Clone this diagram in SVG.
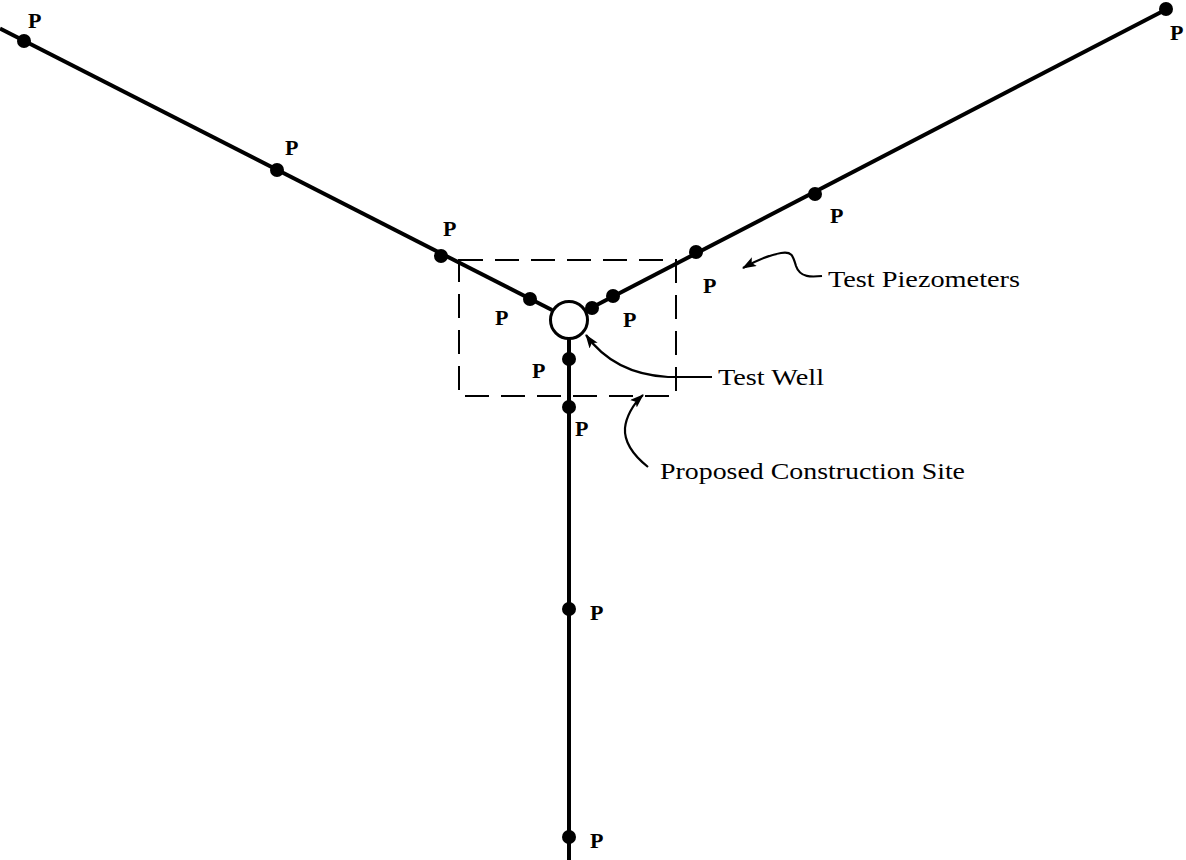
<svg xmlns="http://www.w3.org/2000/svg" width="1186" height="860" viewBox="0 0 1186 860">
<style>
.line{stroke:#000;stroke-width:4;fill:none}
.dot{fill:#000}
.p{font-family:"Liberation Serif","Times New Roman",Times,serif;font-size:22px;font-weight:bold;fill:#000}
.lbl{font-family:"Liberation Serif","Times New Roman",Times,serif;font-size:24px;fill:#000}
.lead{stroke:#000;stroke-width:2.2;fill:none}
.site{stroke:#000;stroke-width:2;fill:none;stroke-dasharray:24 12}
</style>
<defs>
<marker id="ah" viewBox="0 0 14 10" refX="13" refY="5" markerWidth="14" markerHeight="10" markerUnits="userSpaceOnUse" orient="auto">
<path d="M0,0 L14,5 L0,10 L3,5 Z" fill="#000"/>
</marker>
</defs>
<rect width="1186" height="860" fill="#fff"/>
<g id="connectors">
<line class="line" x1="0" y1="28.5" x2="552" y2="310"/>
<line class="line" x1="1167" y1="9" x2="587" y2="310"/>
<line class="line" x1="569" y1="339" x2="569" y2="860"/>
</g>
<g id="site">
<rect class="site" x="459" y="260" width="217" height="136"/>
</g>
<g id="well">
<circle cx="569" cy="320" r="18.5" fill="#fff" stroke="#000" stroke-width="3"/>
</g>
<g id="piezometers">
<circle class="dot" cx="24" cy="41" r="7"/><text class="p" x="28" y="28">P</text>
<circle class="dot" cx="277" cy="170" r="7"/><text class="p" x="285" y="155">P</text>
<circle class="dot" cx="441" cy="256" r="7"/><text class="p" x="443" y="236">P</text>
<circle class="dot" cx="530" cy="299" r="7"/><text class="p" x="495" y="325">P</text>
<circle class="dot" cx="592" cy="308" r="7"/><text class="p" x="623" y="327">P</text>
<circle class="dot" cx="613" cy="296" r="7"/>
<circle class="dot" cx="696" cy="252" r="7"/><text class="p" x="703" y="293">P</text>
<circle class="dot" cx="815" cy="194" r="7"/><text class="p" x="830" y="223">P</text>
<circle class="dot" cx="1166" cy="9" r="7"/><text class="p" x="1170" y="40">P</text>
<circle class="dot" cx="569" cy="359" r="7"/><text class="p" x="532" y="378">P</text>
<circle class="dot" cx="569" cy="407" r="7"/><text class="p" x="575" y="436">P</text>
<circle class="dot" cx="569" cy="609" r="7"/><text class="p" x="590" y="620">P</text>
<circle class="dot" cx="569" cy="837" r="7"/><text class="p" x="590" y="848">P</text>
</g>
<g id="labels">
<path class="lead" marker-end="url(#ah)" d="M822,276 C812,277 800,278 796,266 C793,256 792,251 781,253 C770,255 757,260 743,268"/>
<text class="lbl" x="828" y="287" textLength="192" lengthAdjust="spacingAndGlyphs">Test Piezometers</text>
<path class="lead" marker-end="url(#ah)" d="M712,377 L668,377 C632,375 604,360 586,335"/>
<text class="lbl" x="718" y="385" textLength="106" lengthAdjust="spacingAndGlyphs">Test Well</text>
<path class="lead" marker-end="url(#ah)" d="M648,467 C633,455 624,442 625,428 C626,418 632,405 643,395"/>
<text class="lbl" x="660" y="479" textLength="305" lengthAdjust="spacingAndGlyphs">Proposed Construction Site</text>
</g>
</svg>
